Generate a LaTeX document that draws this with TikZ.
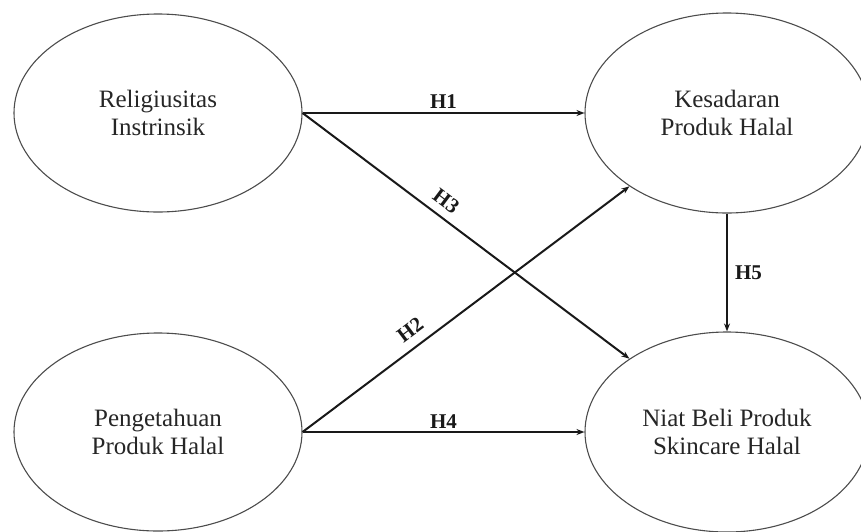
\documentclass[tikz,border=0pt]{standalone}
\usepackage{fontspec}
\setmainfont{Liberation Serif}
\usetikzlibrary{shapes.geometric,arrows.meta}
\begin{document}
\begin{tikzpicture}[x=1pt,y=-1pt,
  var/.style={ellipse,draw=black!70,line width=1.1pt,minimum width=288pt,minimum height=198pt,inner sep=0pt,align=center,
    font=\fontsize{25}{28}\selectfont,text=black!85},
  arr/.style={line width=2pt,-{Stealth[length=8pt,width=6pt]},black!90},
  hlab/.style={font=\fontsize{21}{24}\selectfont\bfseries,text=black!90,inner sep=3pt}]
\useasboundingbox (0,0) rectangle (861,531);
\node[var] (e1) at (158,113) {Religiusitas\\Instrinsik};
\node[var,minimum width=284pt,minimum height=200pt] (e2) at (727,113) {Kesadaran\\Produk Halal};
\node[var] (e3) at (158,432) {Pengetahuan\\Produk Halal};
\node[var,minimum width=284pt,minimum height=200pt] (e4) at (727,432) {Niat Beli Produk\\Skincare Halal};
\draw[arr] (e1.east) -- node[hlab,above,inner sep=4pt] {H1} (e2.west);
\draw[arr] (e1.east) -- node[hlab,above,sloped,pos=0.41,inner sep=8pt] {H3} (e4);
\draw[arr] (e3.east) -- node[hlab,above,sloped,pos=0.36,inner sep=9pt] {H2} (e2);
\draw[arr] (e3.east) -- node[hlab,above,inner sep=3pt] {H4} (e4.west);
\draw[arr] (e2.south) -- node[hlab,right,inner sep=7pt] {H5} (e4.north);
\end{tikzpicture}
\end{document}
